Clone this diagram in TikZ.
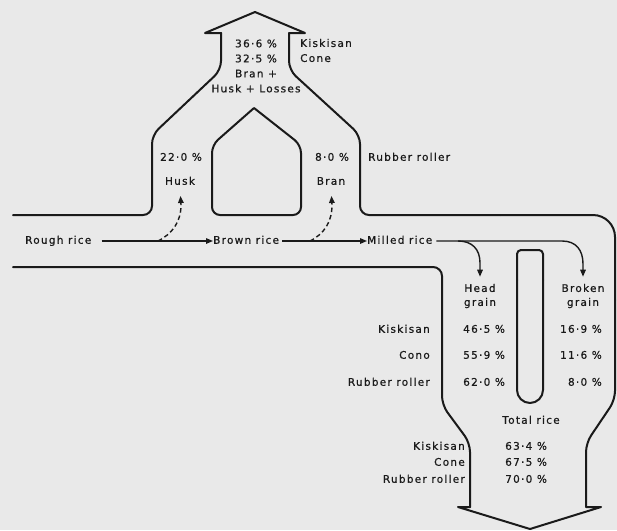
\documentclass[tikz,border=0pt]{standalone}
\usepackage{fontspec}
\setmainfont{DejaVu Sans}[LetterSpace=12, FakeBold=0.6]
\usetikzlibrary{arrows.meta}
\definecolor{ink}{HTML}{1A1A1A}
\definecolor{paper}{HTML}{E9E9E9}
\begin{document}
\begin{tikzpicture}[x=1pt,y=-1pt,
  outline/.style={draw=ink, line width=2pt, line cap=round, line join=round},
  flow/.style={draw=ink, line width=1.4pt, -{Triangle[length=7pt,width=5.5pt]}},
  dashflow/.style={flow, dash pattern=on 4.5pt off 3pt},
  lblm/.style={inner sep=0pt, text=ink, font=\fontsize{10.5}{15}\selectfont},
  lbl/.style={lblm, text height=7.5pt, text depth=2pt},
]
\fill[paper] (0,0) rectangle (617,530);
\useasboundingbox (0,0) rectangle (617,530);

% ---- outline of the flow ----
\draw[outline, rounded corners=9] (13,215) -- (152,215) -- (152,135) -- (221,70) -- (221,33);
\draw[outline] (221,33) -- (205,33) -- (255,12) -- (305,33) -- (289,33);
\draw[outline, rounded corners=9] (289,33) -- (289,70) -- (360,135) -- (360,215) -- (500,215);
\draw[outline, rounded corners=22] (500,215) -- (615,215) -- (615,300);
\draw[outline, rounded corners=9] (615,300) -- (615,400) -- (586,443) -- (586,507);
\draw[outline] (586,507) -- (601,507) -- (530,529) -- (458,507) -- (470,507);
\draw[outline, rounded corners=9] (470,507) -- (470,443) -- (442,405) -- (442,267) -- (13,267);

% house (inner island)
\draw[outline, rounded corners=8] (254,108) -- (301,145) -- (301,215) -- (212,215) -- (212,145) -- (254,108);

% pill (inner island)
\draw[outline, rounded corners=4] (517,280) -- (517,250) -- (543,250) -- (543,280);
\draw[outline, rounded corners=13] (517,280) -- (517,403) -- (543,403) -- (543,280);

% ---- labels ----
\node[lblm, align=center] (toptxt) at (256,66) {36·6 \%\\32·5 \%\\Bran +\\Husk + Losses};
\node[lblm, align=left, anchor=west] (topmach) at (300,50.5) {Kiskisan\\Cone};

\node[lbl] (husk22) at (181,158) {22·0 \%};
\node[lbl] (husk) at (180,182) {Husk};
\node[lbl] (bran8) at (332,158) {8·0 \%};
\node[lbl] (bran) at (331,182) {Bran};
\node[lbl, anchor=west] (rr) at (368,158) {Rubber roller};

\node[lbl, anchor=west] (rough) at (25,241) {Rough rice};
\node[lbl, anchor=west] (brown) at (213,241) {Brown rice};
\node[lbl, anchor=west] (milled) at (367,241) {Milled rice};

\node[lblm, align=center, font=\fontsize{10.5}{14}\selectfont] (head) at (480,296) {Head\\grain};
\node[lblm, align=center, font=\fontsize{10.5}{14}\selectfont] (broken) at (583,296) {Broken\\grain};

\node[lbl, anchor=east] (k1) at (430,330) {Kiskisan};
\node[lbl, anchor=east] (c1) at (430,356) {Cono};
\node[lbl, anchor=east] (r1) at (430,383) {Rubber roller};
\node[lbl, anchor=west] (hk) at (463,330) {46·5 \%};
\node[lbl, anchor=west] (hc) at (463,356) {55·9 \%};
\node[lbl, anchor=west] (hr) at (463,383) {62·0 \%};
\node[lbl, anchor=east] (bk) at (602,330) {16·9 \%};
\node[lbl, anchor=east] (bc) at (602,356) {11·6 \%};
\node[lbl, anchor=east] (br) at (602,383) {8·0 \%};

\node[lbl] (total) at (531,421) {Total rice};
\node[lbl, anchor=east] (k2) at (465,447) {Kiskisan};
\node[lbl, anchor=east] (c2) at (465,463) {Cone};
\node[lbl, anchor=east] (r2) at (465,480) {Rubber roller};
\node[lbl, anchor=west] (tk) at (505,447) {63·4 \%};
\node[lbl, anchor=west] (tc) at (505,463) {67·5 \%};
\node[lbl, anchor=west] (tr) at (505,480) {70·0 \%};

% ---- flow arrows ----
\coordinate (hsplit) at (158,241);
\coordinate (bsplit) at (310,241);
\coordinate (msplit) at (458,241);
\draw[flow, shorten <=10pt] (rough) -- (brown);
\draw[flow, shorten <=3pt] (brown) -- (milled);
\draw[flow, shorten <=4pt, shorten >=7pt] (milled.east) -- (562,241)
  .. controls (576,241) and (583,250) .. (583,264) -- (broken.north);
\draw[flow, shorten >=7pt] (msplit) .. controls (472,241) and (480,249) .. (480,263) -- (head.north);
\draw[dashflow, shorten >=9pt] (hsplit) .. controls (172,234) and (181,222) .. (181,205) -- (husk.south);
\draw[dashflow, shorten >=9pt] (bsplit) .. controls (324,234) and (332,222) .. (332,205) -- (bran.south);
\end{tikzpicture}
\end{document}
